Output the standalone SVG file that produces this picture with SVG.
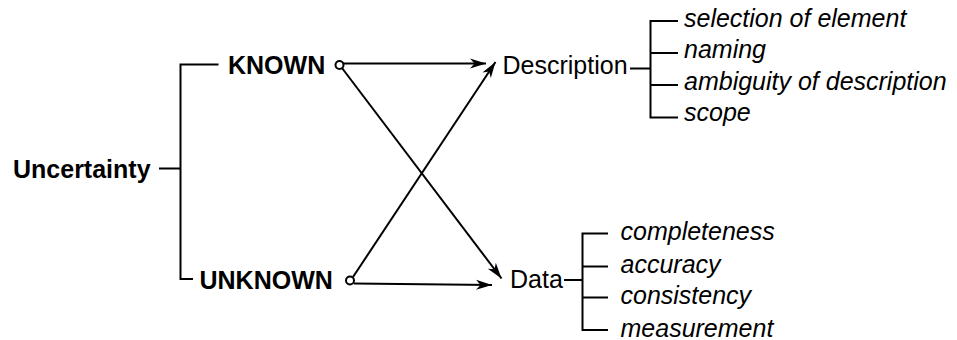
<svg xmlns="http://www.w3.org/2000/svg" width="957" height="340" viewBox="0 0 957 340">
<style>
text{font-family:"Liberation Sans",Arial,sans-serif;font-size:25px;fill:#000}
.b{font-weight:bold}
.i{font-style:italic}
.ln{stroke:#000;stroke-width:2;fill:none}
.ar{stroke:#000;stroke-width:2;fill:none;marker-end:url(#ah)}
.dot{stroke:#000;stroke-width:2;fill:#fff}
</style>
<defs>
<marker id="ah" markerUnits="userSpaceOnUse" markerWidth="18" markerHeight="12" refX="16" refY="5" orient="auto" viewBox="0 0 18 10">
<path d="M0,0 L16,5 L0,10 L4.5,5 z" fill="#000"/>
</marker>
</defs>
<g id="uncertainty">
<text class="b" x="13" y="177.5">Uncertainty</text>
<path class="ln" d="M159,168.5 H180 M218.5,64.5 H180.5 V279 H193"/>
</g>
<g id="known">
<text class="b" x="228" y="74">KNOWN</text>
</g>
<g id="unknown">
<text class="b" x="199.5" y="289">UNKNOWN</text>
</g>
<g id="connectors">
<line class="ar" x1="343" y1="63.5" x2="486" y2="63.5"/>
<line class="ar" x1="342" y1="68" x2="501.5" y2="278.5"/>
<line class="ar" x1="353" y1="277" x2="495.5" y2="62"/>
<line class="ar" x1="354" y1="283.5" x2="492" y2="285"/>
<circle class="dot" cx="339.5" cy="65" r="4"/>
<circle class="dot" cx="350" cy="280.5" r="4"/>
</g>
<g id="description">
<text x="502.5" y="74">Description</text>
<path class="ln" d="M630,68.5 H650.5 M678,21 H650.5 V117.5 H678 M650.5,53 H678 M650.5,85 H678"/>
<text class="i" x="684" y="26.5">selection of element</text>
<text class="i" x="684" y="58">naming</text>
<text class="i" x="684" y="89.5">ambiguity of description</text>
<text class="i" x="684" y="121">scope</text>
</g>
<g id="data">
<text x="510" y="288">Data</text>
<path class="ln" d="M564,280 H582.5 M608,233.5 H582.5 V330 H608 M582.5,266.5 H608 M582.5,297.5 H608"/>
<text class="i" x="620.5" y="240">completeness</text>
<text class="i" x="620.5" y="272.5">accuracy</text>
<text class="i" x="620.5" y="304">consistency</text>
<text class="i" x="620.5" y="336.5">measurement</text>
</g>
</svg>
